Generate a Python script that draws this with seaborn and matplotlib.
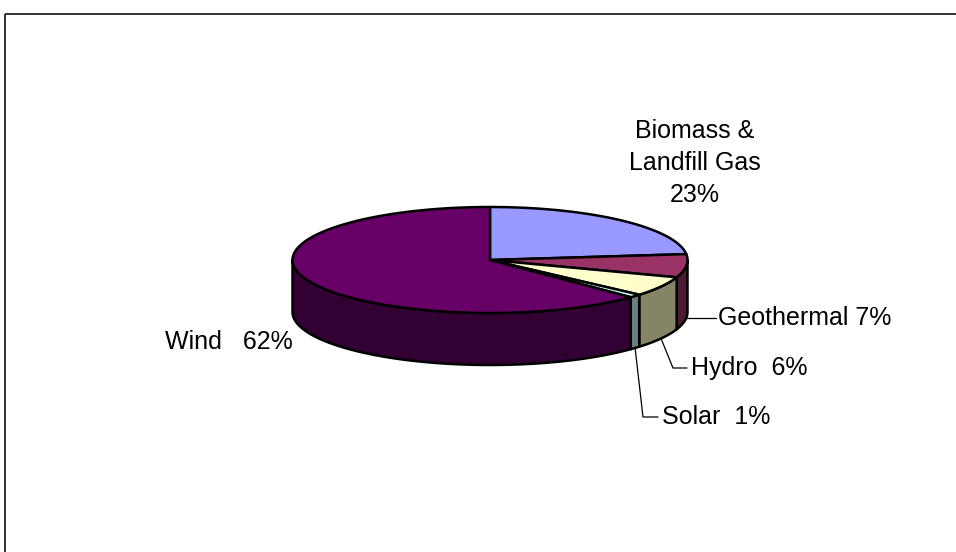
import numpy as np
import matplotlib
matplotlib.use("Agg")
import matplotlib.pyplot as plt
from matplotlib.patches import Rectangle
import seaborn as sns

# ---- data ----
categories = ["Biomass & Landfill Gas", "Geothermal", "Hydro", "Solar", "Wind"]
values = [23, 7, 6, 1, 62]
label_texts = ["Biomass &\nLandfill Gas\n23%", "Geothermal 7%", "Hydro  6%", "Solar  1%", "Wind   62%"]
top_colors = ["#9999FF", "#993366", "#FFFFCC", "#CCFFFF", "#660066"]
side_colors = ["#4D4D80", "#4D1A33", "#858566", "#668080", "#330033"]

sns.set_theme(style="white")
plt.rcParams['font.family'] = ['Liberation Sans', 'DejaVu Sans']

W, H = 956, 552
fig = plt.figure(figsize=(W / 100, H / 100), dpi=100)
ax = fig.add_axes([0, 0, 1, 1])
ax.set_xlim(0, W)
ax.set_ylim(H, 0)
ax.axis("off")

# pie geometry (pixel layout)
cx, cy = 490, 260
a, b = 197.5, 53
depth = 52

def pt(theta_deg, dy=0):
    t = np.radians(theta_deg)
    return cx + a * np.cos(t), cy - b * np.sin(t) + dy

total = sum(values)
bounds = []
start = 90.0
for v in values:
    end = start - v / total * 360.0
    bounds.append((start, end))
    start = end

# side faces (front half: angles in [-180, 0])
for (s, e), sc in zip(bounds, side_colors):
    for off in (0, -360, 360):
        h2, l2 = s + off, e + off
        h3, l3 = min(h2, 0), max(l2, -180)
        if h3 > l3:
            th = np.linspace(h3, l3, 120)
            xs_top, ys_top = pt(th)
            xs_bot, ys_bot = pt(th[::-1], depth)
            xs = np.concatenate([xs_top, xs_bot])
            ys = np.concatenate([ys_top, ys_bot])
            ax.fill(xs, ys, facecolor=sc, edgecolor="black", linewidth=1.8,
                    joinstyle="round", zorder=2)

# top faces
for (s, e), tc in zip(bounds, top_colors):
    th = np.linspace(s, e, 200)
    xs, ys = pt(th)
    xs = np.concatenate([[cx], xs, [cx]])
    ys = np.concatenate([[cy], ys, [cy]])
    ax.fill(xs, ys, facecolor=tc, edgecolor="black", linewidth=1.8,
            joinstyle="round", zorder=3)

fs = 18
# labels
ax.text(695, 163, label_texts[0], ha="center", va="center", fontsize=fs,
        linespacing=1.42, color="black")
ax.text(165, 342, label_texts[4], ha="left", va="center", fontsize=fs, color="black")

# leader-line labels
mid = [(s + e) / 2 for s, e in bounds]
leader = {
    1: ((716, 318), None, (718, 318)),
    2: ((673, 368), (687, 368), (691, 368)),
    3: ((643, 417), (658, 417), (662, 417)),
}
for i, (p1, p2, tpos) in leader.items():
    x0, y0 = pt(mid[i], depth)
    if p2 is None:
        ax.plot([x0, p1[0]], [p1[1], p1[1]], color="black", lw=0.9, zorder=4)
    else:
        ax.plot([x0, p1[0], p2[0]], [y0, p1[1], p2[1]], color="black", lw=0.9, zorder=4)
    ax.text(tpos[0], tpos[1], label_texts[i], ha="left", va="center", fontsize=fs, color="black")

# chart frame
ax.add_patch(Rectangle((5, 14), 1000, 600, fill=False, edgecolor="#222222",
                       linewidth=1.3, clip_on=False, zorder=5))

fig.savefig("out.png", dpi=100)
